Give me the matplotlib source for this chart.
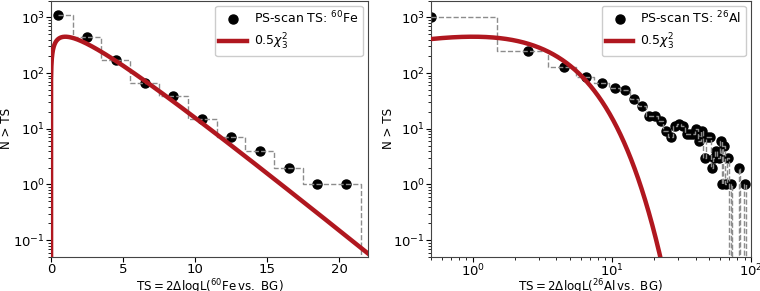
import numpy as np
import matplotlib
matplotlib.use("Agg")
import matplotlib.pyplot as plt
from matplotlib.lines import Line2D
from math import gamma

# ---- data ----
fe_ts = [0.5, 2.5, 4.5, 6.5, 8.5, 10.5, 12.5, 14.5, 16.5, 18.5, 20.5]
fe_n = [1100, 450, 170, 67, 39, 15, 7, 4, 2, 1, 1]

al_ts = [0.5, 2.5, 4.5, 6.5, 8.5, 10.5, 12.5, 14.5, 16.5, 18.5, 20.5,
         22.5, 24.5, 26.5, 28.5, 30.5, 32.5, 34.5, 36.5, 38.5, 40.5,
         42.5, 44.5, 46.5, 48.5, 50.5, 52.5, 54.5, 56.5, 58.5, 60.5,
         62.5, 64.5, 66.5, 68.5, 70.5, 72.5, 74.5, 76.5, 78.5, 80.5,
         82.5, 84.5, 86.5, 88.5, 90.5]
al_n = [1000, 250, 130, 85, 65, 53, 49, 34, 26, 17, 17,
        14, 9, 7, 11, 12, 11, 8, 8, 8, 10,
        6, 9, 3, 7, 7, 2, 3, 4, 3, 6,
        1, 5, 1, 3, 0, 1, 0, 0, 0, 0,
        2, 0, 0, 0, 1]

bin_width = 2.0
dof = 3

RED = '#b0171f'
FS_TICK = 9.5
FS_LAB = 8.6
FS_LEG = 9


def chi2_pdf(x, k):
    x = np.asarray(x, dtype=float)
    return x ** (k / 2 - 1) * np.exp(-x / 2) / (2 ** (k / 2) * gamma(k / 2))


plt.rcParams['font.family'] = ['DejaVu Sans']
plt.rcParams['mathtext.fontset'] = 'dejavusans'

fig = plt.figure(figsize=(7.6, 2.91), dpi=100)
axL = fig.add_axes([0.067, 0.117, 0.417, 0.881])
axR = fig.add_axes([0.567, 0.117, 0.421, 0.881])

# 0.5 * chi2_3 pdf, scaled to total counts and bin width
scale = sum(fe_n) * bin_width * 0.5


def panel(ax, ts, n, iso, logx, ylab_x):
    ts = np.asarray(ts, float)
    n = np.asarray(n, float)
    m = n > 0
    ax.plot(ts[m], n[m], 'o', color='black', ms=6.5, zorder=2)
    xs = np.append(ts, ts[-1] + bin_width)
    ys = np.append(n, 0)
    ax.step(xs, ys, where='mid', color='#8c8c8c', ls='--', lw=1.0, zorder=3)
    if logx:
        xx = np.logspace(np.log10(0.5), 2, 1000)
    else:
        xx = np.linspace(0, 22, 2000)
    ax.plot(xx, scale * chi2_pdf(xx, dof), color=RED, lw=3.2, zorder=4)
    ax.set_yscale('log')
    ax.set_ylim(0.05, 2000)
    if logx:
        ax.set_xscale('log')
        ax.set_xlim(0.5, 100)
    else:
        ax.set_xlim(0, 22)
    ax.set_ylabel('N > TS', fontsize=FS_LAB)
    ax.yaxis.set_label_coords(ylab_x, 0.5)
    num, el = (60, 'Fe') if iso == 'Fe' else (26, 'Al')
    ax.set_xlabel(r'$\mathrm{TS} = 2\Delta\mathrm{logL}(^{%d}\mathrm{%s\,vs.\ BG})$'
                  % (num, el), fontsize=FS_LAB)
    ax.xaxis.set_label_coords(0.5, -0.078)
    ax.tick_params(labelsize=FS_TICK, length=3.5, width=0.8, pad=0.8)
    ax.tick_params(which='minor', length=2, width=0.6)
    lab = r'PS-scan TS: $^{%d}$%s' % (num, el)
    handles = [Line2D([], [], marker='o', color='black', ls='none', ms=6.5),
               Line2D([], [], color=RED, lw=3.2)]
    ax.legend(handles, [lab, r'$0.5\chi^2_3$'], loc='upper right', fontsize=FS_LEG,
              handlelength=2.2, handletextpad=0.55, borderpad=0.35,
              labelspacing=0.4, framealpha=1, borderaxespad=0.4)
    for s in ax.spines.values():
        s.set_linewidth(0.8)
        s.set_color('#444444')


panel(axL, fe_ts, fe_n, 'Fe', False, -0.12)
panel(axR, al_ts, al_n, 'Al', True, -0.113)

fig.savefig('out.png', dpi=100)
